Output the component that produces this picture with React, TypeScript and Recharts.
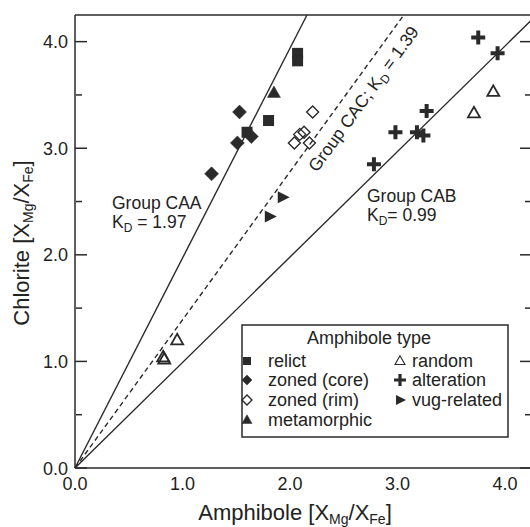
import React from 'react';
import { ScatterChart, Scatter, XAxis, YAxis, ReferenceLine } from 'recharts';

const FONT = '"Liberation Sans", Arial, Helvetica, sans-serif';
const INK = '#2a2a2a';

// axis setup
const axisMax = 4.25;
const majorTicks = [0, 1, 2, 3, 4];
const minorTicks = [0.5, 1.5, 2.5, 3.5];

// partition lines through the origin (Chlorite = KD * Amphibole)
const groupNames = ['CAA', 'CAC', 'CAB'];
const groupKd = [1.97, 1.39, 0.99];
const groupDashed = [false, true, false];

// [amphibole, chlorite] in X_Mg/X_Fe
const relict = [[2.07, 3.89], [2.07, 3.82], [1.80, 3.26], [1.60, 3.15]];
const zonedCore = [[1.53, 3.34], [1.27, 2.76], [1.51, 3.05], [1.64, 3.11]];
const zonedRim = [[2.21, 3.34], [2.04, 3.05], [2.09, 3.13], [2.13, 3.15], [2.18, 3.05]];
const metamorphic = [[1.85, 3.52]];
const random = [[3.89, 3.53], [3.71, 3.33], [0.95, 1.20], [0.82, 1.04], [0.83, 1.02]];
const alteration = [[3.75, 4.04], [3.93, 3.89], [3.27, 3.35], [2.98, 3.15], [3.18, 3.15], [3.24, 3.12], [2.78, 2.85]];
const vugRelated = [[1.93, 2.54], [1.81, 2.36]];

const toPoints = (arr: number[][]) => arr.map(([x, y]) => ({ x, y }));

// marker shapes
const Square = ({ cx, cy, s = 11 }: any) => (
  <rect x={cx - s / 2} y={cy - s / 2} width={s} height={s} fill={INK} />
);
const Diamond = ({ cx, cy, r = 7, open = false }: any) => (
  <path
    d={`M${cx},${cy - r}L${cx + r},${cy}L${cx},${cy + r}L${cx - r},${cy}Z`}
    fill={open ? 'none' : INK}
    stroke={INK}
    strokeWidth={open ? 1.4 : 0.5}
  />
);
const TriUp = ({ cx, cy, w = 12, open = false, sw = 1.8 }: any) => {
  const h = w * 0.88;
  return (
    <path
      d={`M${cx},${cy - h * 0.6}L${cx + w / 2},${cy + h * 0.4}L${cx - w / 2},${cy + h * 0.4}Z`}
      fill={open ? 'none' : INK}
      stroke={INK}
      strokeWidth={open ? sw : 0.5}
    />
  );
};
const Cross = ({ cx, cy, r = 7, t = 4 }: any) => (
  <path
    d={`M${cx - t / 2},${cy - r}h${t}v${r - t / 2}h${r - t / 2}v${t}h${-(r - t / 2)}v${r - t / 2}h${-t}v${-(r - t / 2)}h${-(r - t / 2)}v${-t}h${r - t / 2}Z`}
    fill={INK}
  />
);
const TriRight = ({ cx, cy, w = 11 }: any) => (
  <path d={`M${cx - w * 0.4},${cy - w / 2}L${cx + w * 0.6},${cy}L${cx - w * 0.4},${cy + w / 2}Z`} fill={INK} />
);

// tick labels; the inward tick marks come from mirrored axes below
const BottomLabel = (props: any) => (
  <text x={props.x} y={props.y} textAnchor="middle" fontSize={18} fill="#222" fontFamily={FONT}>
    {Number(props.payload.value).toFixed(1)}
  </text>
);
const LeftLabel = (props: any) => (
  <text x={props.x} y={props.y + 6.5} textAnchor="end" fontSize={18} fill="#222" fontFamily={FONT}>
    {Number(props.payload.value).toFixed(1)}
  </text>
);

const tickStroke = { stroke: INK, strokeWidth: 1.5 };
const blank = () => '';

const segmentFor = (kd: number) => {
  const xEnd = Math.min(axisMax, axisMax / kd);
  return [{ x: 0, y: 0 }, { x: xEnd, y: kd * xEnd }];
};

const legendLeft = [
  { label: 'relict', mark: (cx: number, cy: number) => <Square cx={cx} cy={cy} s={8} /> },
  { label: 'zoned (core)', mark: (cx: number, cy: number) => <Diamond cx={cx} cy={cy} r={5} /> },
  { label: 'zoned (rim)', mark: (cx: number, cy: number) => <Diamond cx={cx} cy={cy} r={5} open /> },
  { label: 'metamorphic', mark: (cx: number, cy: number) => <TriUp cx={cx} cy={cy} w={10} /> },
];
const legendRight = [
  { label: 'random', mark: (cx: number, cy: number) => <TriUp cx={cx} cy={cy} w={10} open sw={1.1} /> },
  { label: 'alteration', mark: (cx: number, cy: number) => <Cross cx={cx} cy={cy} r={6} t={3.2} /> },
  { label: 'vug-related', mark: (cx: number, cy: number) => <TriRight cx={cx} cy={cy} w={10} /> },
];
const rowBaselines = [367, 386, 406, 426];

export default function App() {
  const common = { type: 'number' as const, domain: [0, axisMax], allowDataOverflow: true, interval: 0 as const };
  const tickAxis = { ...common, mirror: true, tickLine: tickStroke, tickFormatter: blank };
  return (
    <div style={{ position: 'absolute', left: 0, top: 0, width: 530, height: 527, overflow: 'hidden', background: '#fff' }}>
      <ScatterChart width={540} height={527} margin={{ top: 15, right: 8, bottom: 0, left: 0 }}>
        {/* labelled axes */}
        <XAxis xAxisId="x" dataKey="x" {...common} ticks={majorTicks} height={59}
          tickSize={0} tickMargin={22} tickLine={false} tick={BottomLabel} axisLine={tickStroke} />
        <YAxis yAxisId="y" dataKey="y" {...common} ticks={majorTicks} width={75}
          tickSize={0} tickMargin={7} tickLine={false} tick={LeftLabel} axisLine={tickStroke} />

        {/* inward tick marks on all four sides */}
        <XAxis xAxisId="bMajor" {...tickAxis} ticks={majorTicks} height={1} tickSize={12} axisLine={false} />
        <XAxis xAxisId="bMinor" {...tickAxis} ticks={minorTicks} height={1} tickSize={6} axisLine={false} />
        <XAxis xAxisId="tMajor" orientation="top" {...tickAxis} ticks={majorTicks} height={1} tickSize={12} axisLine={tickStroke} />
        <XAxis xAxisId="tMinor" orientation="top" {...tickAxis} ticks={minorTicks} height={1} tickSize={6} axisLine={false} />
        <YAxis yAxisId="lMajor" {...tickAxis} ticks={majorTicks} width={1} tickSize={12} axisLine={false} />
        <YAxis yAxisId="lMinor" {...tickAxis} ticks={minorTicks} width={1} tickSize={6} axisLine={false} />
        <YAxis yAxisId="rMajor" orientation="right" {...tickAxis} ticks={majorTicks} width={1} tickSize={12} axisLine={tickStroke} />
        <YAxis yAxisId="rMinor" orientation="right" {...tickAxis} ticks={minorTicks} width={1} tickSize={6} axisLine={false} />

        {groupKd.map((kd, i) => (
          <ReferenceLine
            key={groupNames[i]}
            xAxisId="x"
            yAxisId="y"
            segment={segmentFor(kd)}
            stroke={INK}
            strokeWidth={1.4}
            strokeDasharray={groupDashed[i] ? '5 3.5' : undefined}
          />
        ))}

        <Scatter name="relict" xAxisId="x" yAxisId="y" data={toPoints(relict)} isAnimationActive={false}
          shape={(p: any) => <Square cx={p.cx} cy={p.cy} />} />
        <Scatter name="zoned (core)" xAxisId="x" yAxisId="y" data={toPoints(zonedCore)} isAnimationActive={false}
          shape={(p: any) => <Diamond cx={p.cx} cy={p.cy} />} />
        <Scatter name="zoned (rim)" xAxisId="x" yAxisId="y" data={toPoints(zonedRim)} isAnimationActive={false}
          shape={(p: any) => <Diamond cx={p.cx} cy={p.cy} r={6} open />} />
        <Scatter name="metamorphic" xAxisId="x" yAxisId="y" data={toPoints(metamorphic)} isAnimationActive={false}
          shape={(p: any) => <TriUp cx={p.cx} cy={p.cy} w={13} />} />
        <Scatter name="random" xAxisId="x" yAxisId="y" data={toPoints(random)} isAnimationActive={false}
          shape={(p: any) => <TriUp cx={p.cx} cy={p.cy} w={12} open />} />
        <Scatter name="alteration" xAxisId="x" yAxisId="y" data={toPoints(alteration)} isAnimationActive={false}
          shape={(p: any) => <Cross cx={p.cx} cy={p.cy} />} />
        <Scatter name="vug-related" xAxisId="x" yAxisId="y" data={toPoints(vugRelated)} isAnimationActive={false}
          shape={(p: any) => <TriRight cx={p.cx} cy={p.cy} w={12} />} />
      </ScatterChart>

      <svg width={530} height={527} style={{ position: 'absolute', left: 0, top: 0, pointerEvents: 'none' }}
        fontFamily={FONT} fill="#222">
        {/* axis titles */}
        <text x={295} y={520} fontSize={22} textAnchor="middle">
          Amphibole [X<tspan fontSize={14} dy={4}>Mg</tspan><tspan dy={-4}>/X</tspan>
          <tspan fontSize={14} dy={4}>Fe</tspan><tspan dy={-4}>]</tspan>
        </text>
        <text x={29} y={243} fontSize={22} textAnchor="middle" transform="rotate(-90, 29, 243)">
          Chlorite [X<tspan fontSize={14} dy={4}>Mg</tspan><tspan dy={-4}>/X</tspan>
          <tspan fontSize={14} dy={4}>Fe</tspan><tspan dy={-4}>]</tspan>
        </text>

        {/* group annotations */}
        <text x={112} y={209} fontSize={17.5}>Group {groupNames[0]}</text>
        <text x={112} y={228} fontSize={17.5}>
          K<tspan fontSize={12} dy={4}>D</tspan><tspan dy={-4}> = {groupKd[0].toFixed(2)}</tspan>
        </text>
        <text x={367} y={202} fontSize={17.5}>Group {groupNames[2]}</text>
        <text x={367} y={221} fontSize={17.5}>
          K<tspan fontSize={12} dy={4}>D</tspan><tspan dy={-4}>= {groupKd[2].toFixed(2)}</tspan>
        </text>
        <text x={0} y={0} fontSize={17.5} transform="translate(317,173) rotate(-54)">
          Group {groupNames[1]}; K<tspan fontSize={12} dy={4}>D</tspan><tspan dy={-4}> = {groupKd[1].toFixed(2)}</tspan>
        </text>

        {/* legend */}
        <rect x={242} y={325} width={266} height={112} fill="#fff" stroke={INK} strokeWidth={1.5} />
        <text x={369} y={344} fontSize={18} textAnchor="middle">Amphibole type</text>
        {legendLeft.map((item, i) => (
          <g key={item.label}>
            {item.mark(247, rowBaselines[i] - 6)}
            <text x={268} y={rowBaselines[i]} fontSize={18}>{item.label}</text>
          </g>
        ))}
        {legendRight.map((item, i) => (
          <g key={item.label}>
            {item.mark(400, rowBaselines[i] - 6)}
            <text x={412} y={rowBaselines[i]} fontSize={18}>{item.label}</text>
          </g>
        ))}
      </svg>
    </div>
  );
}
